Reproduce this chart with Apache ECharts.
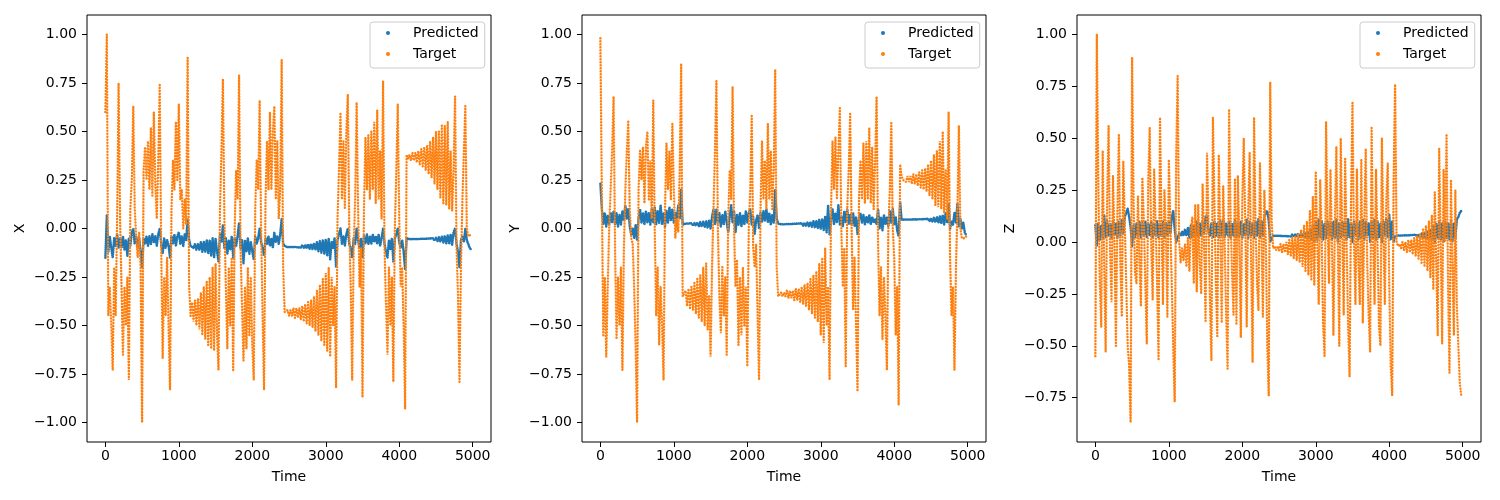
<!DOCTYPE html>
<html>
<head>
    <meta charset="utf-8">
    <title>Predicted vs Target</title>
    <script src="https://cdn.jsdelivr.net/npm/echarts@6/dist/echarts.min.js"></script>
    <style type="text/css">
        * { margin: 0; padding: 0 }
        html, body { background: #fff; font-family: "DejaVu Sans", sans-serif; }
        #main { width: 1500px; height: 500px; }
    </style>
</head>
<body>
<div id="main"></div>
<script>
    // values, one sample every STEP time steps (time = sample index)
    var STEP = 20;

    var targetX = [
        0.6, 1.0, -0.45, -0.3, -0.5, -0.73, -0.2, -0.45, 0.05, 0.75,
        0.05, -0.3, -0.65, -0.3, -0.5, -0.25, -0.78, 0.1, 0.25, 0.63,
        0.1, -0.05, -0.15, -0.02, -0.2, -1.0, 0.3, 0.42, 0.25, 0.45,
        0.2, 0.52, 0.17, 0.6, 0.22, 0.05, 0.35, 0.74, -0.1, -0.67,
        -0.25, -0.45, -0.15, -0.5, -0.83, 0.1, 0.35, 0.2, 0.55, 0.25,
        0.64, 0.15, 0.2, 0.0, 0.15, 0.02, 0.88, -0.3, -0.45, -0.38,
        -0.48, -0.37, -0.5, -0.36, -0.52, -0.33, -0.55, -0.3, -0.57, -0.27,
        -0.6, -0.25, -0.62, -0.2, -0.63, -0.18, -0.55, -0.73, 0.1, 0.4,
        0.77, 0.05, -0.3, -0.62, -0.2, -0.5, -0.15, -0.73, 0.0, 0.3,
        0.15, 0.79, -0.1, -0.4, -0.68, -0.3, -0.62, -0.2, -0.55, -0.25,
        -0.6, -0.78, 0.1, 0.35, 0.2, 0.66, 0.0, -0.45, -0.83, 0.15,
        0.45, 0.2, 0.6, 0.2, 0.5, 0.63, 0.15, 0.45, 0.05, 0.2,
        0.87, -0.2, -0.43, -0.44, -0.42, -0.45, -0.42, -0.45, -0.41, -0.46,
        -0.41, -0.46, -0.41, -0.47, -0.4, -0.48, -0.39, -0.49, -0.38, -0.5,
        -0.37, -0.51, -0.35, -0.53, -0.32, -0.55, -0.29, -0.58, -0.26, -0.6,
        -0.23, -0.63, -0.2, -0.66, -0.25, -0.5, -0.3, -0.82, 0.05, 0.3,
        0.59, 0.15, 0.45, 0.1, 0.5, 0.69, 0.0, -0.3, -0.78, -0.1,
        0.15, 0.65, 0.1, -0.3, -0.1, -0.87, 0.1, 0.47, 0.2, 0.48,
        0.15, 0.5, 0.2, 0.55, 0.13, 0.61, 0.15, 0.4, 0.05, 0.76,
        -0.1, -0.4, -0.65, -0.2, -0.5, -0.25, -0.79, 0.0, 0.3, 0.64,
        0.05, -0.3, -0.2, -0.5, -0.93, 0.38, 0.36, 0.38, 0.35, 0.39,
        0.35, 0.39, 0.34, 0.4, 0.33, 0.41, 0.32, 0.42, 0.3, 0.43,
        0.28, 0.45, 0.26, 0.47, 0.23, 0.5, 0.2, 0.5, 0.16, 0.53,
        0.13, 0.53, 0.12, 0.55, 0.1, 0.4, 0.09, 0.3, 0.68, -0.1,
        -0.35, -0.79, -0.2, 0.15, 0.4, 0.63, 0.0, -0.04, -0.03, -0.03
    ];
    var predX = [
        -0.15, 0.07, -0.12, -0.04, -0.1, -0.15, -0.05, -0.09, -0.03, -0.1,
        -0.05, -0.1, -0.04, -0.11, -0.06, -0.14, -0.05, -0.09, -0.02, 0.0,
        -0.08, -0.04, -0.1, -0.05, -0.12, -0.2, -0.05, -0.08, -0.04, -0.09,
        -0.04, -0.08, -0.03, -0.07, -0.04, -0.09, -0.03, 0.0, -0.08, -0.13,
        -0.05, -0.1, -0.06, -0.09, -0.15, -0.04, -0.08, -0.03, -0.09, -0.04,
        -0.02, -0.08, -0.04, -0.09, -0.03, -0.06, 0.05, -0.06, -0.09, -0.08,
        -0.1, -0.08, -0.11, -0.08, -0.11, -0.07, -0.12, -0.07, -0.12, -0.06,
        -0.13, -0.06, -0.14, -0.05, -0.15, -0.05, -0.12, -0.17, -0.03, -0.07,
        0.02, -0.1, -0.05, -0.13, -0.06, -0.11, -0.04, -0.15, -0.05, -0.09,
        -0.04, 0.03, -0.1, -0.06, -0.18, -0.06, -0.12, -0.05, -0.13, -0.07,
        -0.12, -0.16, -0.04, -0.08, -0.05, 0.0, -0.07, -0.1, -0.14, -0.05,
        -0.08, -0.04, -0.09, -0.05, -0.1, -0.02, -0.07, -0.04, -0.08, -0.03,
        0.05, -0.08, -0.09, -0.095, -0.09, -0.095, -0.09, -0.095, -0.09, -0.095,
        -0.09, -0.097, -0.088, -0.098, -0.086, -0.1, -0.084, -0.102, -0.082, -0.105,
        -0.08, -0.108, -0.076, -0.112, -0.07, -0.118, -0.065, -0.125, -0.06, -0.13,
        -0.055, -0.14, -0.05, -0.16, -0.07, -0.1, -0.05, -0.2, -0.06, -0.03,
        0.0, -0.08, -0.04, -0.09, -0.03, 0.0, -0.08, -0.1, -0.15, -0.05,
        -0.08, 0.0, -0.06, -0.1, -0.05, -0.15, -0.04, -0.08, -0.03, -0.08,
        -0.04, -0.08, -0.03, -0.07, -0.04, -0.08, -0.03, -0.09, -0.05, 0.0,
        -0.08, -0.12, -0.15, -0.06, -0.11, -0.05, -0.17, -0.05, -0.03, 0.0,
        -0.07, -0.1, -0.06, -0.12, -0.21, -0.05, -0.055, -0.055, -0.056, -0.054,
        -0.056, -0.054, -0.056, -0.054, -0.057, -0.053, -0.057, -0.053, -0.058, -0.052,
        -0.059, -0.051, -0.06, -0.05, -0.062, -0.048, -0.065, -0.045, -0.068, -0.042,
        -0.072, -0.038, -0.076, -0.035, -0.08, -0.03, -0.085, -0.02, 0.0, -0.08,
        -0.12, -0.2, -0.06, -0.04, -0.07, 0.0, -0.06, -0.08, -0.1, -0.11
    ];

    var targetY = [
        0.98, 0.2, -0.55, -0.25, -0.66, -0.3, 0.0, 0.2, 0.4, 0.68,
        -0.1, -0.57, -0.25, -0.5, -0.2, -0.73, -0.1, 0.2, 0.4, 0.55,
        0.1, -0.05, -0.08, -0.3, -0.6, -1.0, 0.2, 0.4, 0.25, 0.42,
        0.13, 0.42, 0.5, 0.15, 0.35, 0.05, 0.66, 0.0, -0.45, -0.2,
        -0.6, -0.3, -0.5, -0.78, 0.1, 0.44, 0.2, 0.4, 0.15, 0.54,
        0.2, -0.05, 0.05, -0.02, 0.3, 0.85, -0.35, -0.36, -0.32, -0.4,
        -0.31, -0.41, -0.3, -0.42, -0.28, -0.44, -0.26, -0.46, -0.24, -0.48,
        -0.2, -0.5, -0.18, -0.52, -0.35, -0.66, -0.2, 0.1, 0.4, 0.76,
        0.0, -0.35, -0.54, -0.2, -0.45, -0.25, -0.65, 0.05, 0.3, 0.15,
        0.73, 0.0, -0.3, -0.16, -0.6, -0.25, -0.55, -0.2, -0.5, -0.3,
        -0.71, 0.0, 0.2, 0.58, -0.1, -0.2, -0.08, -0.45, -0.78, 0.1,
        0.45, 0.15, 0.35, 0.1, 0.54, 0.15, 0.4, 0.1, 0.3, 0.82,
        -0.2, -0.35, -0.34, -0.33, -0.35, -0.33, -0.35, -0.32, -0.36, -0.32,
        -0.36, -0.32, -0.37, -0.31, -0.37, -0.31, -0.38, -0.3, -0.39, -0.29,
        -0.4, -0.28, -0.42, -0.26, -0.44, -0.24, -0.46, -0.22, -0.48, -0.18,
        -0.55, -0.15, -0.59, -0.1, -0.5, -0.3, -0.78, 0.1, 0.45, 0.2,
        0.47, 0.15, 0.4, 0.62, 0.0, -0.3, -0.1, -0.71, 0.1, 0.3,
        0.59, 0.0, -0.42, -0.15, -0.5, -0.84, 0.15, 0.35, 0.15, 0.44,
        0.13, 0.45, 0.15, 0.52, 0.13, 0.42, 0.1, 0.35, 0.68, -0.08,
        -0.45, -0.2, -0.57, -0.25, -0.45, -0.73, 0.0, 0.2, 0.55, 0.0,
        -0.15, -0.55, -0.3, -0.91, 0.33, 0.27, 0.25, 0.26, 0.24, 0.27,
        0.24, 0.27, 0.23, 0.28, 0.23, 0.28, 0.22, 0.29, 0.21, 0.3,
        0.2, 0.31, 0.19, 0.33, 0.17, 0.35, 0.15, 0.38, 0.12, 0.4,
        0.11, 0.45, 0.1, 0.5, 0.08, 0.3, 0.05, 0.6, -0.15, -0.45,
        -0.3, -0.73, -0.2, 0.1, 0.53, 0.0, -0.05, -0.04, -0.05, -0.04
    ];
    var predY = [
        0.23, 0.1, 0.02, 0.08, 0.01, 0.07, 0.02, 0.08, 0.03, 0.09,
        0.02, 0.08, 0.01, 0.07, 0.02, 0.09, 0.04, 0.12, 0.05, 0.1,
        0.01, -0.03, 0.0, -0.05, 0.02, -0.06, 0.05, 0.1, 0.03, 0.08,
        0.02, 0.09, 0.03, 0.08, 0.02, 0.1, 0.03, 0.11, 0.02, 0.09,
        0.03, 0.12, 0.02, 0.08, 0.01, 0.09, 0.03, 0.11, 0.04, 0.1,
        0.03, 0.08, 0.04, 0.12, 0.05, 0.2, 0.02, 0.02, 0.025, 0.018,
        0.026, 0.017, 0.027, 0.016, 0.028, 0.015, 0.03, 0.012, 0.033, 0.01,
        0.035, 0.007, 0.038, 0.003, 0.04, 0.0, 0.06, 0.1, 0.02, 0.1,
        0.03, 0.08, 0.01, 0.07, 0.02, 0.09, 0.03, -0.02, 0.06, 0.12,
        0.03, 0.09, -0.02, 0.07, 0.02, 0.08, 0.01, 0.07, 0.02, 0.09,
        0.03, 0.08, 0.1, 0.02, 0.06, -0.03, 0.04, 0.07, 0.0, 0.08,
        0.03, 0.09, 0.04, 0.1, 0.03, 0.08, 0.02, 0.07, 0.03, 0.2,
        0.05, 0.025, 0.02, 0.022, 0.02, 0.022, 0.02, 0.023, 0.019, 0.023,
        0.019, 0.024, 0.018, 0.025, 0.017, 0.026, 0.016, 0.027, 0.015, 0.029,
        0.013, 0.031, 0.011, 0.034, 0.008, 0.037, 0.005, 0.04, 0.0, 0.045,
        -0.005, 0.05, -0.01, 0.06, -0.02, 0.12, -0.03, 0.05, 0.1, 0.02,
        0.08, 0.03, 0.12, 0.02, 0.06, 0.01, 0.09, 0.03, 0.1, 0.02,
        0.07, 0.02, 0.08, 0.01, 0.06, -0.03, 0.05, 0.08, 0.03, 0.07,
        0.02, 0.06, 0.03, 0.07, 0.02, 0.06, 0.03, 0.05, 0.02, 0.1,
        0.0, 0.06, -0.01, 0.07, 0.02, 0.06, 0.01, 0.09, 0.03, 0.1,
        0.02, 0.06, -0.01, -0.04, 0.14, 0.045, 0.044, 0.046, 0.044, 0.046,
        0.044, 0.046, 0.043, 0.047, 0.043, 0.047, 0.042, 0.048, 0.042, 0.048,
        0.041, 0.049, 0.04, 0.05, 0.038, 0.052, 0.036, 0.055, 0.033, 0.058,
        0.03, 0.062, 0.025, 0.07, 0.02, 0.08, 0.03, 0.13, 0.0, 0.04,
        0.02, 0.08, 0.03, 0.13, 0.01, 0.05, 0.0, 0.03, -0.02, -0.035
    ];

    var targetZ = [
        -0.55, 1.0, 0.3, -0.2, -0.41, 0.44, -0.1, -0.53, 0.2, 0.56,
        -0.05, -0.29, 0.32, 0.0, -0.5, 0.15, 0.52, -0.1, -0.36, 0.39,
        0.1, -0.2, -0.5, -0.6, -0.87, 0.89, 0.2, -0.15, -0.2, 0.22,
        -0.1, -0.31, 0.31, 0.1, -0.2, -0.49, 0.3, 0.55, 0.0, -0.28,
        0.35, 0.1, -0.2, -0.57, 0.6, 0.1, -0.3, 0.25, 0.05, -0.36,
        0.39, 0.1, -0.2, -0.5, -0.77, 0.4, 0.8, 0.0, -0.1, -0.03,
        -0.09, -0.01, -0.12, 0.02, -0.14, 0.06, 0.12, -0.2, 0.18, -0.24,
        0.18, -0.1, -0.25, 0.28, 0.0, -0.38, 0.43, 0.1, -0.3, -0.57,
        0.6, 0.2, -0.2, -0.46, 0.42, 0.05, -0.39, 0.27, 0.0, -0.35,
        -0.61, 0.64, 0.15, -0.15, -0.35, 0.3, -0.4, 0.32, 0.0, -0.46,
        0.2, 0.5, 0.1, -0.41, 0.15, 0.43, -0.1, -0.58, 0.6, 0.1,
        -0.2, -0.33, 0.38, 0.05, -0.36, 0.25, 0.0, -0.5, -0.74, 0.77,
        0.1, -0.03, -0.02, -0.04, -0.02, -0.04, -0.01, -0.05, -0.01, -0.05,
        0.0, -0.06, 0.01, -0.07, 0.02, -0.08, 0.03, -0.09, 0.04, -0.1,
        0.06, -0.12, 0.08, -0.14, 0.1, -0.16, 0.15, -0.18, 0.22, -0.21,
        0.34, 0.0, -0.3, 0.3, 0.05, -0.4, -0.55, 0.58, 0.1, -0.2,
        0.35, 0.0, -0.45, 0.1, 0.46, 0.0, -0.5, 0.5, 0.05, -0.35,
        0.4, 0.0, -0.4, -0.65, 0.2, 0.67, 0.0, -0.3, 0.35, -0.1,
        -0.3, 0.4, -0.39, 0.1, 0.45, -0.1, -0.35, -0.53, 0.55, 0.0,
        -0.3, 0.35, 0.0, -0.4, -0.5, 0.5, 0.05, -0.3, 0.2, 0.38,
        -0.2, -0.6, -0.74, 0.3, 0.76, 0.0, -0.02, -0.01, -0.03, 0.0,
        -0.04, 0.0, -0.05, 0.01, -0.05, 0.01, -0.06, 0.02, -0.07, 0.03,
        -0.08, 0.04, -0.1, 0.06, -0.12, 0.08, -0.14, 0.1, -0.17, 0.13,
        -0.23, 0.24, -0.1, -0.45, 0.45, 0.0, -0.49, 0.35, 0.0, 0.52,
        -0.2, -0.63, 0.3, -0.1, -0.45, 0.25, -0.3, -0.5, -0.68, -0.74
    ];
    var predZ = [
        0.08, -0.02, 0.09, 0.01, 0.08, 0.02, 0.13, 0.02, 0.1, 0.03,
        0.09, 0.02, 0.1, 0.03, 0.09, 0.02, 0.1, 0.03, 0.11, 0.04,
        0.12, 0.14, 0.16, 0.12, 0.07, -0.02, 0.08, 0.02, 0.09, 0.03,
        0.1, 0.02, 0.09, 0.03, 0.1, 0.02, 0.09, 0.03, 0.1, 0.02,
        0.09, 0.03, 0.1, 0.02, 0.09, 0.03, 0.1, 0.02, 0.09, 0.03,
        0.1, 0.04, 0.12, 0.15, 0.06, 0.0, 0.02, 0.04, 0.03, 0.05,
        0.03, 0.06, 0.03, 0.07, 0.02, 0.08, 0.02, 0.08, 0.03, 0.1,
        0.02, 0.09, 0.03, 0.1, 0.04, 0.12, 0.13, 0.05, 0.03, 0.09,
        0.02, 0.1, 0.03, 0.09, 0.02, 0.1, 0.03, 0.11, 0.02, 0.09,
        0.03, 0.1, 0.02, 0.09, 0.03, 0.11, 0.02, 0.09, 0.03, 0.1,
        0.02, 0.09, 0.03, 0.11, 0.02, 0.1, 0.03, 0.09, 0.02, 0.1,
        0.03, 0.11, 0.02, 0.1, 0.03, 0.12, 0.14, 0.15, 0.1, 0.0,
        0.02, 0.03, 0.032, 0.03, 0.033, 0.03, 0.033, 0.029, 0.034, 0.029,
        0.035, 0.028, 0.036, 0.027, 0.037, 0.026, 0.038, 0.025, 0.04, 0.024,
        0.042, 0.022, 0.045, 0.02, 0.05, 0.015, 0.06, 0.01, 0.08, 0.0,
        0.1, 0.01, 0.11, 0.02, 0.1, 0.01, 0.09, 0.02, 0.1, 0.03,
        0.09, 0.01, 0.1, 0.02, 0.11, 0.0, 0.09, 0.02, 0.1, 0.03,
        0.1, 0.01, 0.11, 0.02, 0.09, 0.0, 0.1, 0.03, 0.09, 0.01,
        0.1, 0.02, 0.11, 0.01, 0.1, 0.03, 0.09, 0.0, 0.1, 0.02,
        0.11, 0.01, 0.1, 0.02, 0.09, 0.0, 0.1, 0.03, 0.11, 0.02,
        0.13, 0.01, 0.1, 0.0, 0.03, 0.03, 0.031, 0.029, 0.031, 0.029,
        0.032, 0.028, 0.032, 0.028, 0.033, 0.027, 0.034, 0.026, 0.035, 0.025,
        0.037, 0.023, 0.04, 0.02, 0.045, 0.015, 0.05, 0.01, 0.06, 0.005,
        0.08, 0.0, 0.09, 0.02, 0.1, 0.01, 0.09, 0.0, 0.1, 0.02,
        0.09, 0.01, 0.1, 0.0, 0.09, 0.02, 0.11, 0.12, 0.14, 0.15
    ];

    var timeTicks = [0, 1000, 2000, 3000, 4000, 5000];
    var yTicksXY = [-1.0, -0.75, -0.5, -0.25, 0.0, 0.25, 0.5, 0.75, 1.0];
    var yTicksZ = [-0.75, -0.5, -0.25, 0.0, 0.25, 0.5, 0.75, 1.0];
    var axisNames = ['X', 'Y', 'Z'];

    var BLUE = '#1f77b4', ORANGE = '#ff7f0e';

    function toPairs(vals) {
        var out = [];
        for (var i = 0; i < vals.length; i++) {
            out.push([i * STEP, vals[i]]);
        }
        return out;
    }

    function fmtTick(v) {
        return v.toFixed(2).replace('-', '\u2212');
    }

    var panels = [
        { pred: predX, target: targetX, ticks: yTicksXY, min: -1.1, max: 1.1 },
        { pred: predY, target: targetY, ticks: yTicksXY, min: -1.1, max: 1.1 },
        { pred: predZ, target: targetZ, ticks: yTicksZ, min: -0.9635, max: 1.0935 }
    ];
    var gridLeft = [87, 582, 1077];

    var grids = [], xAxes = [], yAxes = [], legends = [], series = [];
    for (var p = 0; p < 3; p++) {
        grids.push({
            left: gridLeft[p], top: 15, width: 404, height: 427,
            show: true, borderColor: '#000', borderWidth: 1, backgroundColor: 'transparent'
        });
        xAxes.push({
            type: 'value', gridIndex: p, min: -250, max: 5249,
            name: 'Time', nameLocation: 'middle', nameGap: 28,
            nameTextStyle: { fontSize: 14, color: '#000', fontFamily: 'DejaVu Sans' },
            axisLine: { show: false, onZero: false },
            axisTick: { show: true, length: 5, customValues: timeTicks, lineStyle: { color: '#000' } },
            axisLabel: {
                customValues: timeTicks, margin: 7, fontSize: 14, color: '#000',
                fontFamily: 'DejaVu Sans', formatter: function (v) { return String(v); }
            },
            splitLine: { show: false }
        });
        yAxes.push({
            type: 'value', gridIndex: p, min: panels[p].min, max: panels[p].max,
            name: axisNames[p], nameLocation: 'middle', nameGap: 60, nameRotate: 90,
            nameTextStyle: { fontSize: 14, color: '#000', fontFamily: 'DejaVu Sans' },
            axisLine: { show: false, onZero: false },
            axisTick: { show: true, length: 5, customValues: panels[p].ticks, lineStyle: { color: '#000' } },
            axisLabel: {
                customValues: panels[p].ticks, margin: 10, fontSize: 14, color: '#000',
                fontFamily: 'DejaVu Sans', formatter: fmtTick
            },
            splitLine: { show: false }
        });
        legends.push({
            left: gridLeft[p] + 283, top: 22, orient: 'vertical',
            icon: 'circle', itemWidth: 4, itemHeight: 4, itemGap: 5,
            padding: [3, 6, 6, 16],
            backgroundColor: 'rgba(255,255,255,0.8)', borderColor: '#cccccc', borderWidth: 1, borderRadius: 3,
            textStyle: { fontSize: 14, lineHeight: 16, color: '#000', fontFamily: 'DejaVu Sans', padding: [0, 0, 0, 18] },
            selectedMode: false,
            data: ['Predicted', 'Target']
        });
        series.push({
            name: 'Predicted', type: 'line', xAxisIndex: p, yAxisIndex: p,
            data: toPairs(panels[p].pred), showSymbol: false, symbol: 'circle',
            itemStyle: { color: BLUE },
            lineStyle: { color: BLUE, width: 2.6, type: [0.1, 1.9], cap: 'round' },
            silent: true, z: 2
        });
        series.push({
            name: 'Target', type: 'line', xAxisIndex: p, yAxisIndex: p,
            data: toPairs(panels[p].target), showSymbol: false, symbol: 'circle',
            itemStyle: { color: ORANGE },
            lineStyle: { color: ORANGE, width: 2.4, type: [0.1, 2.9], cap: 'round' },
            silent: true, z: 3
        });
    }

    var chart = echarts.init(document.getElementById('main'), null, { renderer: 'canvas' });
    chart.setOption({
        animation: false,
        backgroundColor: '#fff',
        textStyle: { fontFamily: 'DejaVu Sans' },
        grid: grids,
        xAxis: xAxes,
        yAxis: yAxes,
        legend: legends,
        series: series
    });
</script>
</body>
</html>
